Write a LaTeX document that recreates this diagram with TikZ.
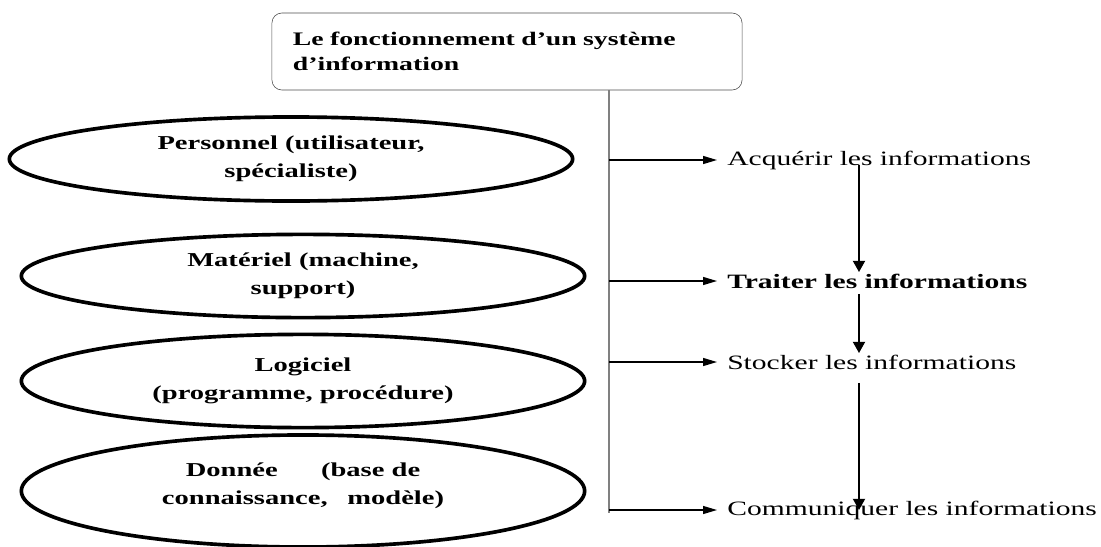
\documentclass[tikz,border=0pt]{standalone}
\usepackage{fontspec}
\setmainfont{Liberation Serif}[FakeStretch=1.45]
\usetikzlibrary{shapes.geometric,arrows.meta}

\newcommand{\textsz}{\fontsize{14.5}{21}\selectfont}
\newcommand{\partsz}{\fontsize{14}{20}\selectfont}

\tikzset{
  part/.style={draw, ellipse, line width=2.6pt, inner sep=0pt, align=center,
    font=\partsz\bfseries},
  task/.style={anchor=west, inner xsep=0.25cm, inner ysep=1pt, font=\textsz},
  branch/.style={-{Triangle[length=0.35cm,width=0.2cm]}, line width=0.9pt},
  flow/.style={-{Triangle[length=0.28cm,width=0.3cm]}, line width=1.4pt}
}

\begin{document}
\begin{tikzpicture}[x=0.025cm, y=-0.025cm]
\useasboundingbox (0,0) rectangle (1101,547);

\node[draw=black!70, rounded corners=0.25cm, minimum width=11.75cm, minimum height=1.925cm,
  text width=10.7cm, align=left, font=\fontsize{13.6}{18}\selectfont\bfseries] (title) at (507,51.5)
{Le fonctionnement d’un système\\d’information};

\node[part, minimum width=14.08cm, minimum height=2.1cm] (pers) at (291,159)
{Personnel (utilisateur,\\spécialiste)};
\node[part, minimum width=14.08cm, minimum height=2.08cm] (mat) at (303,276)
{Matériel (machine,\\support)};
\node[part, minimum width=14.08cm, minimum height=2.33cm] (logi) at (303,381)
{Logiciel\\(programme, procédure)};
\node[part, minimum width=14.08cm, minimum height=2.8cm] (don) at (303,491)
{Donnée\hspace{2.2em}(base de\\connaissance,\hspace{1em}modèle)\\[-10pt]};

\coordinate (trunk) at (609,513);
\coordinate (col) at (859,0);

\node[task] (acq) at (717,160) {Acquérir les informations};
\node[task, font=\textsz\bfseries] (trait) at (717,281) {Traiter les informations};
\node[task] (sto) at (717,362) {Stocker les informations};
\node[task] (com) at (717,510) {Communiquer les informations};

\draw[gray, line width=0.8pt] (title.south -| trunk) -- (trunk);
\draw[branch] (trunk |- acq.west) -- (acq.west);
\draw[branch] (trunk |- trait.west) -- (trait.west);
\draw[branch] (trunk |- sto.west) -- (sto.west);
\draw[branch] (trunk |- com.west) -- (com.west);

\draw[flow] (acq.base -| col) -- (trait.north -| col);
\draw[flow] ([yshift=-0.1cm]trait.south -| col) -- (sto.north -| col);
\draw[flow] ([yshift=-0.3cm]sto.south -| col) -- (com.center -| col);
\end{tikzpicture}
\end{document}
